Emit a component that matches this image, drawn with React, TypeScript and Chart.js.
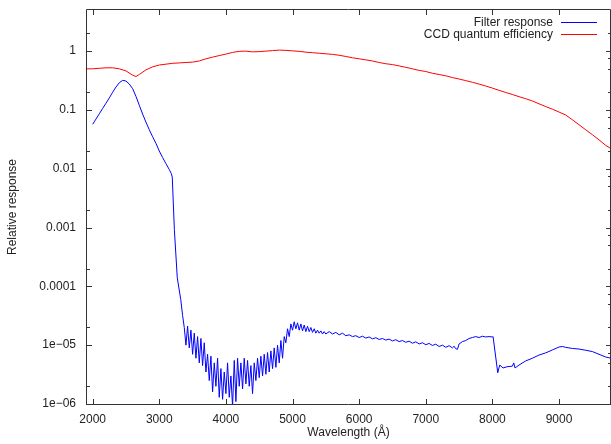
import React, { useEffect, useRef } from 'react';
import { Chart, registerables } from 'chart.js';

Chart.register(...registerables);

// ---- Data ----
const filterWavelength = [
  2000, 2050, 2100, 2150, 2200, 2250, 2300, 2350, 2400, 2450, 2500, 2550, 2600, 2650, 2700, 2750,
  2800, 2850, 2900, 2950, 3000, 3050, 3100, 3150, 3180, 3195, 3226, 3270, 3322, 3350,
  3375, 3400, 3425, 3450, 3475, 3500, 3525, 3550, 3575, 3600, 3625, 3650, 3675, 3700, 3725, 3750,
  3775, 3800, 3825, 3850, 3875, 3900, 3925, 3950, 3975, 4000, 4025, 4050, 4075, 4100, 4125, 4150,
  4175, 4200, 4225, 4250, 4275, 4300, 4325, 4350, 4375, 4400, 4425, 4450, 4475, 4500, 4525, 4550,
  4575, 4600, 4625, 4650, 4675, 4700, 4725, 4750, 4775, 4800, 4825, 4850, 4875, 4900, 4925, 4950,
  4975, 5000, 5025, 5050, 5075, 5100, 5125, 5150, 5175, 5200, 5225, 5250, 5275, 5300, 5325, 5350,
  5375, 5400, 5425, 5450, 5475, 5500, 5550, 5600, 5650, 5700, 5750, 5800, 5850, 5900, 5950, 6000,
  6050, 6100, 6150, 6200, 6250, 6300, 6350, 6400, 6450, 6500, 6550, 6600, 6650, 6700, 6750, 6800,
  6850, 6900, 6950, 7000, 7050, 7100, 7150, 7200, 7250, 7300, 7350, 7400, 7425, 7450, 7475, 7500,
  7550, 7600, 7650, 7700, 7750, 7800, 7850, 7900, 7950, 8000, 8010, 8080, 8110, 8160, 8220, 8300,
  8320, 8340, 8400, 8500, 8600, 8700, 8800, 8900, 9000, 9050, 9100, 9200, 9300, 9400, 9500, 9600,
  9700, 9780,
];
const filterResponse = [
  0.057, 0.07, 0.086, 0.106, 0.13, 0.16, 0.2, 0.245, 0.29, 0.318, 0.31, 0.275, 0.23, 0.17, 0.12, 0.085,
  0.062, 0.046, 0.035, 0.027, 0.02, 0.0155, 0.0122, 0.0097, 0.0083, 0.0072, 0.00093, 0.00014, 0.00006, 0.000032,
  2.0e-5, 1.0e-5, 2.1e-5, 9e-6, 1.8e-5, 7e-6, 1.6e-5, 6e-6, 1.4e-5, 5e-6, 1.3e-5, 4.5e-6, 1.1e-5, 3.5e-6, 7e-6, 2.5e-6,
  6.5e-6, 1.6e-6, 5e-6, 2e-6, 6e-6, 1.3e-6, 4e-6, 1.2e-6, 3.5e-6, 1.5e-6, 5e-6, 1.3e-6, 3e-6, 9e-7, 5.5e-6, 1.1e-6,
  6e-6, 2e-6, 5e-6, 1.8e-6, 6e-6, 2.2e-6, 5.5e-6, 2e-6, 4.5e-6, 1.5e-6, 5e-6, 2.5e-6, 6e-6, 2.8e-6, 6.5e-6, 3e-6,
  7e-6, 3.2e-6, 7.5e-6, 3.5e-6, 8e-6, 4e-6, 9e-6, 4.2e-6, 1.0e-5, 5e-6, 1.2e-5, 6e-6, 1.4e-5, 1.1e-5, 1.9e-5, 1.4e-5,
  2.3e-5, 1.8e-5, 2.5e-5, 1.9e-5, 2.4e-5, 1.8e-5, 2.3e-5, 1.75e-5, 2.2e-5, 1.7e-5, 2.1e-5, 1.7e-5, 2.0e-5, 1.65e-5, 1.9e-5, 1.6e-5,
  1.8e-5, 1.6e-5, 1.75e-5, 1.55e-5, 1.7e-5, 1.55e-5, 1.7e-5, 1.55e-5, 1.65e-5, 1.5e-5, 1.6e-5, 1.45e-5, 1.5e-5, 1.4e-5, 1.45e-5, 1.35e-5,
  1.42e-5, 1.32e-5, 1.38e-5, 1.28e-5, 1.34e-5, 1.25e-5, 1.3e-5, 1.22e-5, 1.27e-5, 1.18e-5, 1.24e-5, 1.15e-5, 1.2e-5, 1.12e-5, 1.17e-5, 1.08e-5,
  1.14e-5, 1.05e-5, 1.1e-5, 1.02e-5, 1.07e-5, 9.9e-6, 1.04e-5, 9.5e-6, 1.0e-5, 9.2e-6, 9.8e-6, 9e-6, 9.6e-6, 8.7e-6, 8.5e-6, 1.05e-5,
  1.15e-5, 1.2e-5, 1.3e-5, 1.35e-5, 1.4e-5, 1.35e-5, 1.42e-5, 1.38e-5, 1.4e-5, 1.38e-5, 1.4e-5, 3.4e-6, 4.6e-6, 4.1e-6, 4.3e-6, 4.4e-6,
  5e-6, 4.1e-6, 4.6e-6, 5.4e-6, 6e-6, 6.8e-6, 7.4e-6, 8.3e-6, 9.3e-6, 9.5e-6, 9.2e-6, 8.8e-6, 8.6e-6, 8.2e-6, 7.8e-6, 7.0e-6,
  6.3e-6, 6e-6,
];

const ccdWavelength = [
  1900, 2000, 2100, 2200, 2300, 2400, 2500, 2600, 2650, 2700, 2800, 2900, 3000, 3100, 3200, 3300,
  3400, 3500, 3600, 3700, 3800, 3900, 4000, 4100, 4200, 4300, 4400, 4500, 4600, 4700, 4800, 4900,
  5000, 5100, 5200, 5300, 5400, 5500, 5600, 5700, 5800, 5900, 6000, 6100, 6200, 6300, 6400, 6500,
  6600, 6700, 6800, 6900, 7000, 7100, 7200, 7300, 7400, 7500, 7600, 7700, 7800, 7900, 8000, 8100,
  8200, 8300, 8400, 8500, 8600, 8700, 8800, 8900, 9000, 9100, 9200, 9300, 9400, 9500, 9600, 9700,
  9780,
];
const ccdEfficiency = [
  0.50, 0.50, 0.51, 0.52, 0.52, 0.50, 0.46, 0.39, 0.37, 0.40, 0.48, 0.54, 0.58, 0.60, 0.62, 0.63,
  0.64, 0.65, 0.68, 0.74, 0.79, 0.84, 0.89, 0.95, 0.99, 1.0, 0.97, 0.98, 1.0, 1.02, 1.04, 1.03,
  1.01, 0.99, 0.96, 0.94, 0.92, 0.9, 0.88, 0.85, 0.81, 0.77, 0.74, 0.71, 0.68, 0.64, 0.61, 0.59,
  0.56, 0.53, 0.50, 0.47, 0.45, 0.42, 0.40, 0.38, 0.355, 0.335, 0.315, 0.295, 0.275, 0.255, 0.235, 0.215,
  0.198, 0.183, 0.168, 0.155, 0.142, 0.127, 0.114, 0.103, 0.092, 0.082, 0.068, 0.056, 0.046, 0.038, 0.031, 0.025,
  0.022,
];

const seriesLabels = ['Filter response', 'CCD quantum efficiency'];
const seriesColors = ['#0000ff', '#ff0000'];

const xTickValues = [2000, 3000, 4000, 5000, 6000, 7000, 8000, 9000];
const yTickValues = [1e-6, 1e-5, 1e-4, 1e-3, 1e-2, 1e-1, 1];
const yTickLabels = ['1e\u221206', '1e\u221205', '0.0001', '0.001', '0.01', '0.1', '1'];
const yMinorLeft = [2e-6, 2e-5, 2e-4, 2e-3, 2e-2, 0.2, 2];
const yMinorRight = [
  2e-6, 5e-6, 7.5e-6, 2e-5, 5e-5, 7.5e-5, 2e-4, 5e-4, 7.5e-4, 2e-3, 5e-3, 7.5e-3,
  2e-2, 5e-2, 7.5e-2, 0.2, 0.5, 0.75, 2,
];

const X_MIN = 1900;
const X_MAX = 9780;
const Y_MIN = 1e-6;
const Y_MAX = 5;

const FONT = "'Liberation Sans', Arial, Helvetica, sans-serif";
const INK = '#333333';

const framePlugin = {
  id: 'gnuFrame',
  afterDatasetsDraw(chart: any) {
    const { ctx, chartArea } = chart;
    const { left, right, top, bottom } = chartArea;
    const xs = chart.scales.x;
    const ys = chart.scales.y;
    ctx.save();
    ctx.strokeStyle = INK;
    ctx.lineWidth = 1;
    ctx.beginPath();
    xTickValues.forEach((v) => {
      const px = Math.round(xs.getPixelForValue(v)) + 0.5;
      ctx.moveTo(px, bottom);
      ctx.lineTo(px, bottom - 5);
      ctx.moveTo(px, top);
      ctx.lineTo(px, top + 5);
    });
    yTickValues.forEach((v) => {
      const py = Math.round(ys.getPixelForValue(v)) + 0.5;
      ctx.moveTo(left, py);
      ctx.lineTo(left + 6, py);
      ctx.moveTo(right, py);
      ctx.lineTo(right - 5, py);
    });
    yMinorLeft.forEach((v) => {
      if (v > Y_MAX) return;
      const py = Math.round(ys.getPixelForValue(v)) + 0.5;
      ctx.moveTo(left, py);
      ctx.lineTo(left + 4, py);
    });
    yMinorRight.forEach((v) => {
      if (v > Y_MAX) return;
      const py = Math.round(ys.getPixelForValue(v)) + 0.5;
      ctx.moveTo(right, py);
      ctx.lineTo(right - 3, py);
    });
    ctx.stroke();
    ctx.beginPath();
    ctx.rect(left + 0.5, top - 0.5, right - left - 1, bottom - top + 1);
    ctx.stroke();

    // legend (gnuplot style: text then sample line)
    ctx.font = `12px ${FONT}`;
    ctx.textAlign = 'right';
    ctx.textBaseline = 'middle';
    chart.data.datasets.forEach((ds: any, i: number) => {
      const yy = top + 12 + i * 12;
      ctx.fillStyle = '#222';
      ctx.fillText(ds.label, right - 58, yy + 0.5);
      ctx.strokeStyle = ds.borderColor;
      ctx.beginPath();
      ctx.moveTo(right - 50, yy + 0.5);
      ctx.lineTo(right - 14, yy + 0.5);
      ctx.stroke();
    });
    ctx.restore();
  },
};

export default function App() {
  const canvasRef = useRef<HTMLCanvasElement | null>(null);

  useEffect(() => {
    document.body.style.margin = '0';
    const canvas = canvasRef.current;
    if (!canvas) return;
    const labelMap = new Map<number, string>();
    yTickValues.forEach((v, i) => labelMap.set(v, yTickLabels[i]));

    const chart = new Chart(canvas, {
      type: 'line',
      data: {
        datasets: [
          {
            label: seriesLabels[0],
            data: filterWavelength.map((w, i) => ({ x: w, y: filterResponse[i] })),
            borderColor: seriesColors[0],
            backgroundColor: seriesColors[0],
            borderWidth: 1,
            pointRadius: 0,
            tension: 0,
          },
          {
            label: seriesLabels[1],
            data: ccdWavelength.map((w, i) => ({ x: w, y: ccdEfficiency[i] })),
            borderColor: seriesColors[1],
            backgroundColor: seriesColors[1],
            borderWidth: 1,
            pointRadius: 0,
            tension: 0,
          },
        ],
      },
      options: {
        animation: false,
        responsive: true,
        maintainAspectRatio: false,
        layout: { padding: { top: 10, right: 0, left: 0, bottom: 0 } },
        plugins: {
          legend: { display: false },
          tooltip: { enabled: false },
        },
        scales: {
          x: {
            type: 'linear',
            min: X_MIN,
            max: X_MAX,
            border: { display: false },
            grid: { display: false, drawTicks: false },
            afterBuildTicks: (s: any) => {
              s.ticks = xTickValues.map((v) => ({ value: v }));
            },
            afterFit: (s: any) => {
              s.height = 40;
              s.paddingLeft = 0;
              s.paddingRight = 0;
            },
            ticks: {
              autoSkip: false,
              maxRotation: 0,
              padding: 8,
              color: '#222',
              font: { family: FONT, size: 12 },
              callback: (v: any) => String(v),
            },
            title: {
              display: true,
              text: 'Wavelength (Å)',
              color: '#222',
              font: { family: FONT, size: 12 },
              padding: { top: 0, bottom: 4 },
            },
          },
          y: {
            type: 'logarithmic',
            min: Y_MIN,
            max: Y_MAX,
            border: { display: false },
            grid: { display: false, drawTicks: false },
            afterBuildTicks: (s: any) => {
              s.ticks = yTickValues.map((v) => ({ value: v }));
            },
            afterFit: (s: any) => {
              s.width = 86;
              s.paddingTop = 0;
              s.paddingBottom = 0;
            },
            ticks: {
              autoSkip: false,
              padding: 10,
              color: '#222',
              font: { family: FONT, size: 12 },
              callback: (v: any) => labelMap.get(Number(v)) ?? '',
            },
            title: {
              display: true,
              text: 'Relative response',
              color: '#222',
              font: { family: FONT, size: 12 },
              padding: { top: 5, bottom: 0 },
            },
          },
        },
      },
      plugins: [framePlugin],
    });
    return () => chart.destroy();
  }, []);

  return (
    <div style={{ position: 'relative', width: 611, height: 444 }}>
      <canvas ref={canvasRef} />
    </div>
  );
}
